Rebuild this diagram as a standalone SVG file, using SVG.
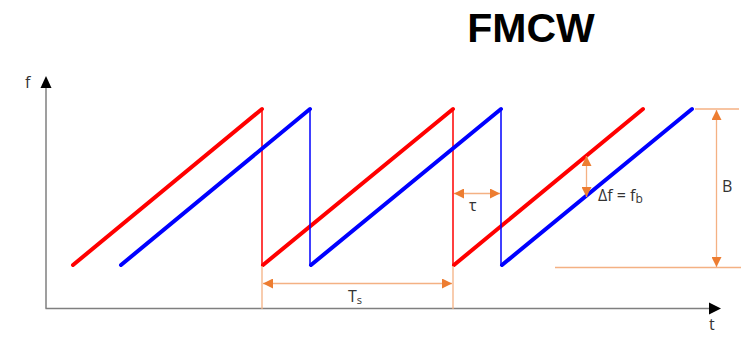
<svg xmlns="http://www.w3.org/2000/svg" width="741" height="337" viewBox="0 0 741 337">
<defs>
<style>
.axis{stroke:#7f7f7f;stroke-width:1.5;fill:none}
.ramp{stroke-width:4;fill:none;stroke-linecap:round;stroke-linejoin:round}
.drop{stroke-width:1.5;fill:none}
.red{stroke:#ff0000}
.blue{stroke:#0000ff}
.dim{stroke:#f4b183;stroke-width:1.3;fill:none}
.lbl{font-family:"Open Sans","Liberation Sans",sans-serif;font-size:16px;fill:#333}
</style>
<marker id="oa" viewBox="0 0 10 10" refX="10" refY="5" markerWidth="10" markerHeight="10" markerUnits="userSpaceOnUse" orient="auto-start-reverse">
<path d="M0,0 L10,5 L0,10 Z" fill="#ed7d31"/>
</marker>
</defs>
<text x="531" y="42" text-anchor="middle" font-family="Liberation Sans, Arial, sans-serif" font-weight="bold" font-size="41" fill="#000">FMCW</text>
<g id="axes">
<line class="axis" x1="46" y1="86" x2="46" y2="308.5"/>
<line class="axis" x1="45.5" y1="308.5" x2="711" y2="308.5"/>
<path d="M46,76 L51.5,88 L40.5,88 Z" fill="#000"/>
<path d="M721,308.5 L709,302.5 L709,314.5 Z" fill="#000"/>
<text class="lbl" x="25" y="88" font-size="18" fill="#111">f</text>
<text class="lbl" x="709" y="330" font-size="16" fill="#111">t</text>
</g>
<g id="connectors">
<g id="tx-signal">
<polyline class="ramp red" points="73,265 262,109"/>
<line class="drop red" x1="262" y1="109" x2="262" y2="265"/>
<polyline class="ramp red" points="263,265 453,109"/>
<line class="drop red" x1="453" y1="109" x2="453" y2="265"/>
<polyline class="ramp red" points="454,265 643,109"/>
</g>
<g id="rx-signal">
<polyline class="ramp blue" points="121,265 310,109"/>
<line class="drop blue" x1="310" y1="109" x2="310" y2="265"/>
<polyline class="ramp blue" points="311,265 501,109"/>
<line class="drop blue" x1="501" y1="109" x2="501" y2="265"/>
<polyline class="ramp blue" points="502,265 692,109"/>
</g>
<g id="dimensions">
<line class="dim" x1="262" y1="266" x2="262" y2="309"/>
<line class="dim" x1="453" y1="266" x2="453" y2="309"/>
<line class="dim" x1="263" y1="283.5" x2="452" y2="283.5" marker-start="url(#oa)" marker-end="url(#oa)"/>
<line class="dim" x1="454" y1="193.5" x2="500" y2="193.5" marker-start="url(#oa)" marker-end="url(#oa)"/>
<line class="dim" x1="586.5" y1="156" x2="586.5" y2="197" marker-start="url(#oa)" marker-end="url(#oa)"/>
<line class="dim" x1="695" y1="109" x2="739" y2="109"/>
<line class="dim" x1="555" y1="267.5" x2="741" y2="267.5"/>
<line class="dim" x1="716.5" y1="110" x2="716.5" y2="267" marker-start="url(#oa)" marker-end="url(#oa)"/>
</g>
</g>
<g id="labels">
<text class="lbl" x="348" y="302">T<tspan font-size="11" dy="2">s</tspan></text>
<text class="lbl" x="469" y="211">τ</text>
<text class="lbl" x="598" y="201">Δf = f<tspan font-size="12" dy="2">b</tspan></text>
<text class="lbl" x="722" y="192">B</text>
</g>
</svg>
